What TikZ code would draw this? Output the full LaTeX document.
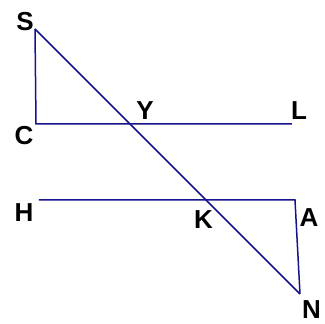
\documentclass[tikz,border=0pt]{standalone}
\usepackage{fontspec}
\setmainfont{Liberation Sans}
\begin{document}
\begin{tikzpicture}[x=1pt,y=1pt,
  seg/.style={draw={rgb,255:red,20;green,20;blue,140}, line width=1.5pt, line join=miter},
  lbl/.style={font=\fontsize{26}{26}\selectfont\bfseries, inner sep=0pt, anchor=center}]
\useasboundingbox (0,0) rectangle (325,324);
\coordinate (S) at (35,295);
\coordinate (C) at (36,200);
\coordinate (L) at (292,200);
\coordinate (H) at (39,124);
\coordinate (A) at (295,124);
\coordinate (N) at (300,30);
\draw[seg] (S) -- (C) -- (L);
\draw[seg] (S) -- (N);
\draw[seg] (H) -- (A) -- (N);
\node[lbl] (lS) at (25,302) {S};
\node[lbl] (lC) at (24,188) {C};
\node[lbl] (lY) at (145,213) {Y};
\node[lbl] (lL) at (299,213) {L};
\node[lbl] (lH) at (24,111) {H};
\node[lbl] (lK) at (203.5,104) {K};
\node[lbl] (lA) at (309,106) {A};
\node[lbl] (lN) at (311.5,14) {N};
\end{tikzpicture}
\end{document}
